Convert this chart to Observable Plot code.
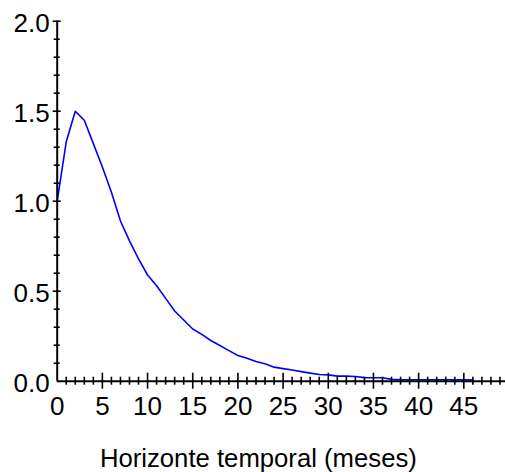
<!DOCTYPE html>
<html>
<head>
<meta charset="utf-8">
<script src="https://cdn.jsdelivr.net/npm/d3@7"></script>
<script src="https://cdn.jsdelivr.net/npm/@observablehq/plot@0.6"></script>
<style>
  html, body { margin: 0; padding: 0; background: #fff; }
  svg { display: block; }
</style>
</head>
<body>
<div id="chart"></div>
<script>
const months = d3.range(0, 47);
const values = [
  1.00, 1.33, 1.50, 1.45, 1.32, 1.19, 1.05, 0.89, 0.78, 0.68,
  0.59, 0.53, 0.46, 0.39, 0.34, 0.29, 0.26, 0.226, 0.198, 0.17,
  0.143, 0.128, 0.11, 0.097, 0.078, 0.07, 0.062, 0.053, 0.045, 0.037,
  0.035, 0.028, 0.028, 0.026, 0.02, 0.019, 0.019, 0.01, 0.008, 0.008,
  0.008, 0.008, 0.008, 0.008, 0.008, 0.008, 0.008
];
const xMajor = [5, 10, 15, 20, 25, 30, 35, 40, 45];
const xMinor = d3.range(1, 50).filter(d => d % 5 !== 0);
const xLabels = [0, 5, 10, 15, 20, 25, 30, 35, 40, 45];
const yMajor = [0.5, 1.0, 1.5, 2.0];
const yMinor = d3.range(1, 20).map(d => d / 10).filter(d => Math.round(d * 10) % 5 !== 0);
const yLabels = [0, 0.5, 1.0, 1.5, 2.0];
const xTitle = "Horizonte temporal (meses)";

const data = months.map((m, i) => ({month: m, value: values[i]}));
const font = "'Liberation Sans', Arial, sans-serif";

const chart = Plot.plot({
  width: 505,
  height: 472,
  marginLeft: 56.7,
  marginRight: 0,
  marginTop: 20.7,
  marginBottom: 91.3,
  style: {fontFamily: font, background: "#fff", color: "#000"},
  x: {domain: [0, 50], range: [56.7, 508.5], axis: null},
  y: {domain: [0, 2], axis: null},
  marks: [
    Plot.line(data, {x: "month", y: "value", stroke: "#0000ff", strokeWidth: 1.6}),
    Plot.ruleY([0], {stroke: "#000", strokeWidth: 2}),
    Plot.ruleX([0], {stroke: "#000", strokeWidth: 2}),
    // x ticks (crossing the axis)
    Plot.ruleX(xMajor, {x: d => d, y1: 0, y2: 0, insetTop: 8, insetBottom: 8, stroke: "#000", strokeWidth: 1.6}),
    Plot.ruleX(xMinor, {x: d => d, y1: 0, y2: 0, insetTop: 4, insetBottom: 4, stroke: "#000", strokeWidth: 1.6}),
    // y ticks (crossing the axis)
    Plot.ruleY(yMajor, {y: d => d, x1: 0, x2: 0, insetLeft: -4, insetRight: -4, stroke: "#000", strokeWidth: 1.6}),
    Plot.ruleY(yMinor, {y: d => d, x1: 0, x2: 0, insetLeft: -3, insetRight: -3, stroke: "#000", strokeWidth: 1.6}),
    // tick labels
    Plot.text(xLabels, {x: d => d, y: 0, text: d => String(d), dy: 25, fontSize: 26, fill: "#000"}),
    Plot.text(yLabels, {x: 0, y: d => d, text: d => d.toFixed(1), textAnchor: "end", dx: -7.5, dy: 2, fontSize: 26, fill: "#000"}),
    // axis title
    Plot.text([xTitle], {frameAnchor: "bottom", text: d => d, dy: 86, dx: -23, fontSize: 25.7, fill: "#000"})
  ]
});
document.getElementById("chart").appendChild(chart);
</script>
</body>
</html>
